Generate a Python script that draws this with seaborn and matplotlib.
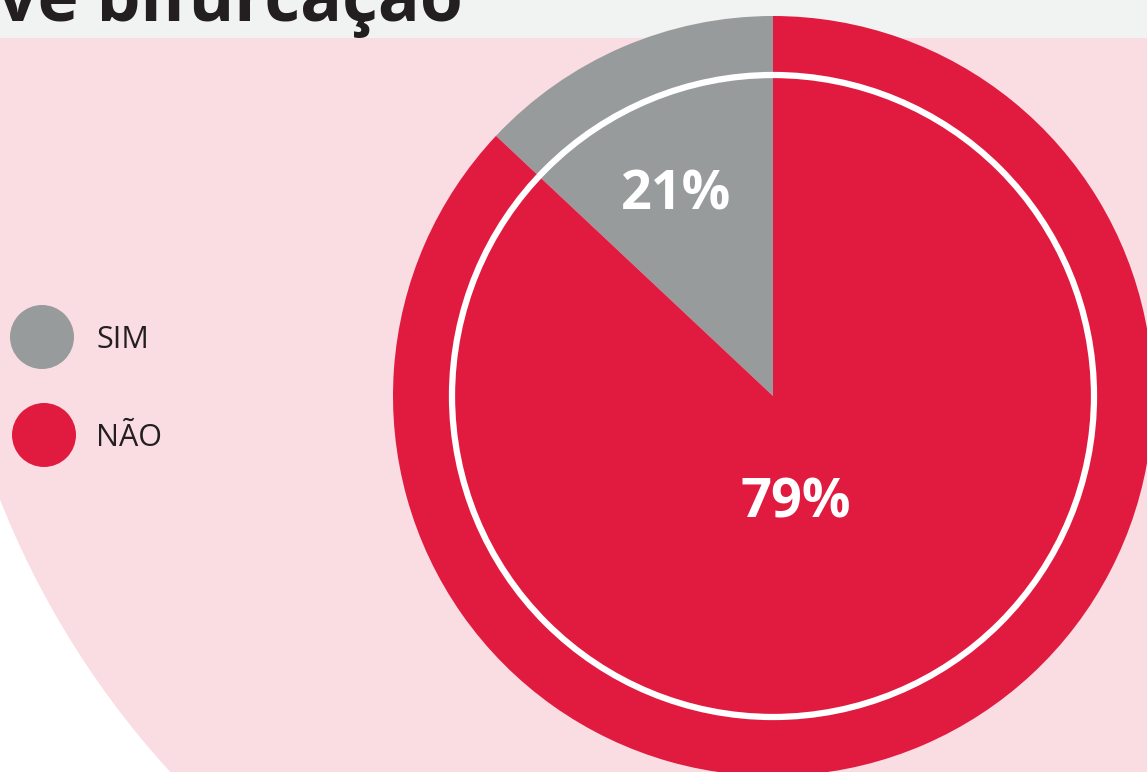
import matplotlib
matplotlib.use("Agg")
import matplotlib.pyplot as plt
import seaborn as sns
from matplotlib.patches import Circle, Rectangle

# data (wedge share follows the drawn angle)
categories = ["SIM", "NÃO"]
shares = [13, 87]
pct_labels = ["21%", "79%"]
title_tail = "ve bifurcação"

colors = ["#989b9c", "#e11b40"]
pink = "#f9dde2"
band = "#f1f2f2"
ink = "#231f20"

sns.set_theme(style="white")
plt.rcParams["font.family"] = ["Open Sans", "DejaVu Sans"]

W, H = 1147, 772
fig = plt.figure(figsize=(W / 100, H / 100), dpi=100, facecolor="white")
ax = fig.add_axes([0, 0, 1, 1])

# background: big pink disc and grey band at the top
ax.add_patch(Circle((824, H - 174), 886, color=pink, lw=0, zorder=0))
ax.add_patch(Rectangle((0, H - 38), W, 38, color=band, lw=0, zorder=1))
ax.text(463, H - 21, title_tail, ha="right", va="baseline", fontsize=50,
        fontweight="bold", color=ink, zorder=2)

# pie
cx, cy, r = 773, H - 396, 380
wedges, _ = ax.pie(shares, colors=colors, startangle=90, counterclock=True,
                   center=(cx, cy), radius=r, frame=True,
                   wedgeprops={"linewidth": 0})
for w in wedges:
    w.set_zorder(3)
ax.set_xlim(0, W)
ax.set_ylim(0, H)
ax.set_aspect("equal")
ax.axis("off")
ax.add_patch(Circle((cx, cy), 321, fill=False, ec="white", lw=4.5, zorder=4))

ax.text(676, H - 195, pct_labels[0], ha="center", va="center", fontsize=39,
        fontweight="bold", color="white", zorder=5)
ax.text(796, H - 503, pct_labels[1], ha="center", va="center", fontsize=39,
        fontweight="bold", color="white", zorder=5)

# legend dots
for i, (cat, col) in enumerate(zip(categories, colors)):
    yy = H - (337 + i * 98)
    ax.add_patch(Circle((42 + 2 * i, yy), 32, color=col, lw=0, zorder=3))
    ax.text(96, yy - 3, cat, ha="left", va="center", fontsize=22,
            fontweight="normal", color=ink, zorder=3)

fig.savefig("out.png", dpi=100, facecolor="white")
